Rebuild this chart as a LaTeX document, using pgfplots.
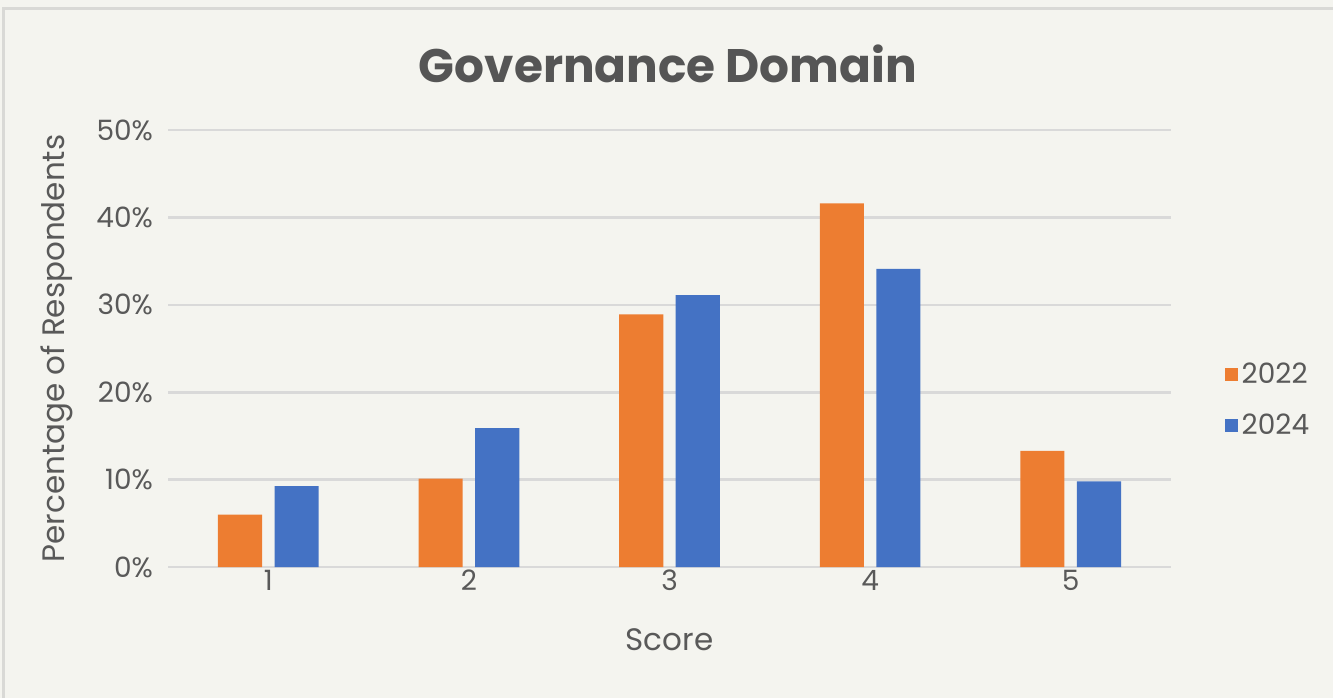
\documentclass[border=0pt]{standalone}
\usepackage{pgfplots}
\pgfplotsset{compat=1.18}
\usepackage{fontspec}
\setmainfont{Poppins}
\definecolor{bg}{HTML}{F4F4EF}
\definecolor{framec}{HTML}{D9D9D6}
\definecolor{gridc}{HTML}{D9D9D9}
\definecolor{txt}{HTML}{595959}
\definecolor{ttl}{HTML}{555555}
\definecolor{orng}{HTML}{ED7D31}
\definecolor{blu}{HTML}{4472C4}
\begin{document}
\begin{tikzpicture}[x=0.5pt,y=0.5pt]
\fill[bg] (0,0) rectangle (1333,698);
\useasboundingbox (0,0) rectangle (1333,698);
\draw[framec,line width=1.5pt] (3,0) -- (3,689) -- (1333,689);
\node[text=ttl,font=\bfseries\fontsize{23.5}{28}\selectfont] at (668,634) {Governance Domain};
\begin{axis}[
  at={(168*0.5pt,131*0.5pt)}, anchor=south west,
  scale only axis, width=501.5pt, height=218.5pt,
  xmin=0.5, xmax=5.5, ymin=0, ymax=50,
  ybar, bar width=0.22,
  axis line style={draw=none},
  ytick={0,10,...,50},
  yticklabel={\pgfmathprintnumber{\tick}\%},
  xtick={1,2,3,4,5},
  ymajorgrids, xmajorgrids=false,
  grid style={draw=gridc, line width=1.3pt},
  major tick length=0pt,
  tick label style={text=txt, font=\fontsize{14}{16}\selectfont},
  yticklabel style={xshift=-4pt},
  xticklabel style={yshift=2pt},
  /pgf/number format/assume math mode=true,
  xlabel={Score}, ylabel={Percentage of Respondents},
  label style={text=txt, font=\fontsize{15.5}{18}\selectfont},
  xlabel style={yshift=-12pt},
  ylabel style={yshift=5pt},
  legend style={at={(1.047,0.382)}, anchor=west, draw=none, fill=none,
    font=\fontsize{14}{16}\selectfont, text=txt, row sep=10pt,
    legend cell align=left},
  legend image code/.code={\fill[#1] (0pt,-3.3pt) rectangle (6.6pt,3.3pt);},
]
\addplot[draw=none, fill=orng, bar shift=-0.141] coordinates {(1,6.0) (2,10.1) (3,28.9) (4,41.6) (5,13.3)};
\addplot[draw=none, fill=blu, bar shift=0.141] coordinates {(1,9.25) (2,15.9) (3,31.1) (4,34.1) (5,9.8)};
\legend{2022,2024}
\end{axis}
\end{tikzpicture}
\end{document}
